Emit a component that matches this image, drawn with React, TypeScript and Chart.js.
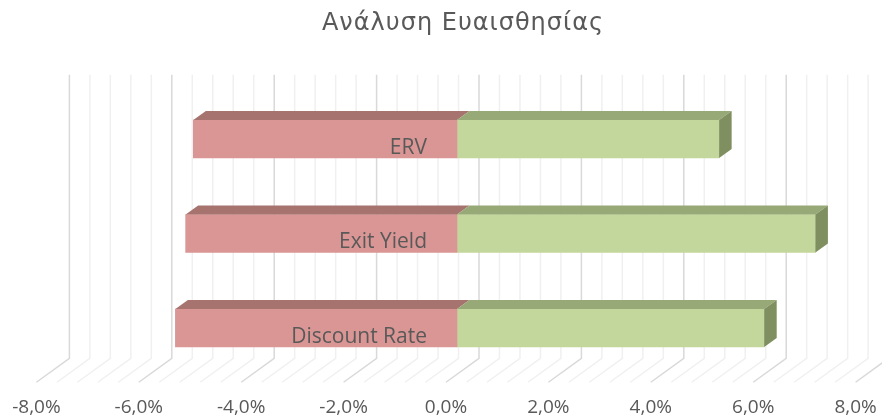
import { useEffect, useRef } from 'react';
import { Chart, registerables } from 'chart.js';

Chart.register(...registerables);

const TITLE = 'Ανάλυση Ευαισθησίας';
const categories = ['ERV', 'Exit Yield', 'Discount Rate'];
const downside = [-5.15, -5.3, -5.5];
const upside = [5.12, 7.0, 6.0];
const xTicks = [-8, -6, -4, -2, 0, 2, 4, 6, 8];
const minorStep = 0.4;

const FONT = '"Open Sans", "DejaVu Sans", sans-serif';
const TITLE_FONT = '"DejaVu Sans", sans-serif';
const TEXT = '#595959';
const DX = 12.5;
const DY = 9;

const fmt = (v: number) => v.toFixed(1).replace('.', ',') + '%';

const faces = {
  red: { front: '#D99694', top: '#A6736F' },
  green: { front: '#C3D69B', top: '#97A977', side: '#7F8F5F' },
};

const decor = {
  id: 'decor',
  beforeDatasetsDraw(chart: any) {
    const ctx = chart.ctx;
    const xs = chart.scales.x;
    const a = chart.chartArea;
    const wallTop = a.top - 17;
    const wallBottom = a.bottom - 17;
    const floorFront = a.bottom + 7;
    const n = Math.round((xs.max - xs.min) / minorStep);
    ctx.save();
    ctx.lineWidth = 1.5;
    for (let i = 0; i <= n; i++) {
      const v = xs.min + i * minorStep;
      const major = Math.abs(v / 2 - Math.round(v / 2)) < 1e-6;
      const px = xs.getPixelForValue(v);
      const bx = px + 22;
      const fx = px - 11;
      ctx.strokeStyle = major ? '#D9D9D9' : '#F0F0F0';
      ctx.beginPath();
      ctx.moveTo(bx, wallTop);
      ctx.lineTo(bx, wallBottom);
      ctx.lineTo(fx, floorFront);
      ctx.stroke();
    }
    ctx.restore();
  },
  afterDatasetsDraw(chart: any) {
    const ctx = chart.ctx;
    ctx.save();
    chart.data.datasets.forEach((ds: any, di: number) => {
      const meta = chart.getDatasetMeta(di);
      const col: any = di === 0 ? faces.red : faces.green;
      meta.data.forEach((el: any) => {
        const p = el.getProps(['x', 'y', 'base', 'height'], true);
        const left = Math.min(p.x, p.base);
        const right = Math.max(p.x, p.base);
        const top = p.y - p.height / 2;
        const bottom = p.y + p.height / 2;
        ctx.fillStyle = col.top;
        ctx.beginPath();
        ctx.moveTo(left, top);
        ctx.lineTo(right, top);
        ctx.lineTo(right + DX, top - DY);
        ctx.lineTo(left + DX, top - DY);
        ctx.closePath();
        ctx.fill();
        if (col.side) {
          ctx.fillStyle = col.side;
          ctx.beginPath();
          ctx.moveTo(right, top);
          ctx.lineTo(right + DX, top - DY);
          ctx.lineTo(right + DX, bottom - DY);
          ctx.lineTo(right, bottom);
          ctx.closePath();
          ctx.fill();
        }
      });
    });
    const xs = chart.scales.x;
    const ys = chart.scales.y;
    const meta0 = chart.getDatasetMeta(0);
    ctx.fillStyle = TEXT;
    ctx.font = `21px ${FONT}`;
    ctx.textAlign = 'right';
    ctx.textBaseline = 'alphabetic';
    categories.forEach((c, i) => {
      const el = meta0.data[i];
      const h = el ? el.height : 38;
      const y = ys.getPixelForValue(i) + h / 2 - 4.5;
      ctx.fillText(c, xs.getPixelForValue(0) - 30, y);
    });
    ctx.restore();
  },
  afterDraw(chart: any) {
    const ctx = chart.ctx;
    const xs = chart.scales.x;
    const a = chart.chartArea;
    ctx.save();
    ctx.fillStyle = TEXT;
    ctx.font = `19px ${FONT}`;
    ctx.textAlign = 'center';
    ctx.textBaseline = 'middle';
    xTicks.forEach((v) => {
      ctx.fillText(fmt(v), xs.getPixelForValue(v) - 11, a.bottom + 32);
    });
    ctx.font = `24px ${TITLE_FONT}`;
    (ctx as any).letterSpacing = '1px';
    ctx.fillText(TITLE, (a.left + a.right) / 2 + 6, 24);
    ctx.restore();
  },
};

export default function App() {
  const ref = useRef<HTMLCanvasElement | null>(null);
  useEffect(() => {
    document.body.style.margin = '0';
    if (!ref.current) return;
    const chart = new Chart(ref.current, {
      type: 'bar',
      data: {
        labels: categories,
        datasets: [
          { label: 'Down', data: downside, backgroundColor: faces.red.front, borderWidth: 0 },
          { label: 'Up', data: upside, backgroundColor: faces.green.front, borderWidth: 0 },
        ],
      },
      options: {
        indexAxis: 'y',
        responsive: false,
        animation: false,
        devicePixelRatio: 1,
        barThickness: 38,
        layout: { padding: { left: 47.4, right: 15.4, top: 91.75, bottom: 42.75 } },
        plugins: { legend: { display: false }, title: { display: false }, tooltip: { enabled: false } },
        scales: {
          x: { type: 'linear', min: -8, max: 8, stacked: true, display: false },
          y: { type: 'category', stacked: true, display: false },
        },
      } as any,
      plugins: [decor],
    });
    return () => chart.destroy();
  }, []);
  return (
    <div style={{ width: 882, height: 418 }}>
      <canvas ref={ref} width={882} height={418} style={{ width: 882, height: 418, display: 'block' }} />
    </div>
  );
}
